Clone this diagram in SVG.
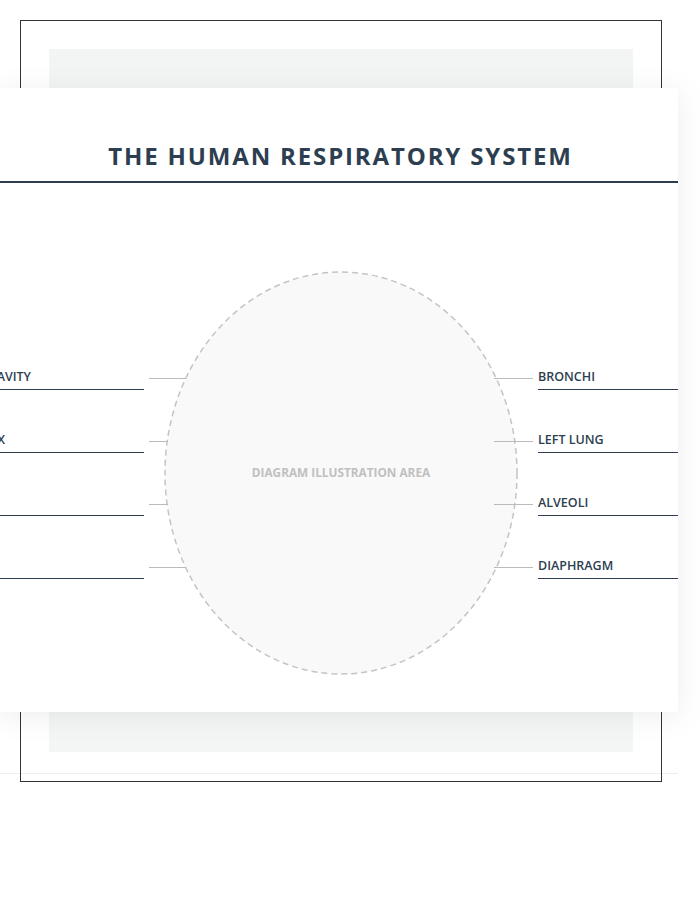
<svg xmlns="http://www.w3.org/2000/svg" width="700" height="900" viewBox="0 0 700 900">
<defs>
<style>
.lbl{font-family:"Open Sans","Liberation Sans",sans-serif;font-size:12.5px;font-weight:600;fill:#2c3e50}
.ul{stroke:#2c3e50;stroke-width:1}
.lead{stroke:#bbb;stroke-width:1}
</style>
<filter id="sh" x="-10%" y="-10%" width="120%" height="120%">
<feDropShadow dx="0" dy="4" stdDeviation="14" flood-color="#000" flood-opacity="0.07"/>
</filter>
<linearGradient id="bg" x1="0" y1="0" x2="0" y2="1">
<stop offset="0" stop-color="#f3f4f4"/>
<stop offset="1" stop-color="#f4f5f5"/>
</linearGradient>
</defs>
<rect width="700" height="900" fill="#fff"/>
<line x1="0" y1="773.5" x2="678" y2="773.5" stroke="#eeeeee" stroke-width="1"/>
<rect x="20.5" y="20.5" width="641" height="761" fill="none" stroke="#333" stroke-width="1"/>
<rect x="49" y="49" width="584" height="703" fill="url(#bg)"/>
<g id="panel">
<rect x="0" y="88" width="678" height="624" fill="#fff" filter="url(#sh)"/>
<text x="340.5" y="165" text-anchor="middle" font-family="Open Sans, Liberation Sans, sans-serif" font-size="24" font-weight="700" letter-spacing="1.85" fill="#2c3e50">THE HUMAN RESPIRATORY SYSTEM</text>
<line x1="0" y1="182" x2="678" y2="182" stroke="#2c3e50" stroke-width="2"/>
</g>
<g id="illustration">
<ellipse cx="341" cy="473" rx="176" ry="201" fill="#f9f9f9" stroke="#c4c4c4" stroke-width="1.5" stroke-dasharray="6,4"/>
<text x="341" y="477" text-anchor="middle" font-family="Open Sans, Liberation Sans, sans-serif" font-size="11.8" font-weight="700" fill="#c0c0c0">DIAGRAM ILLUSTRATION AREA</text>
</g>
<g id="connectors">
<line class="lead" x1="149" y1="378.5" x2="186" y2="378.5"/>
<line class="lead" x1="149" y1="441.5" x2="168" y2="441.5"/>
<line class="lead" x1="149" y1="504.5" x2="168" y2="504.5"/>
<line class="lead" x1="149" y1="567.5" x2="186" y2="567.5"/>
<line class="lead" x1="494" y1="378.5" x2="533" y2="378.5"/>
<line class="lead" x1="494" y1="441.5" x2="533" y2="441.5"/>
<line class="lead" x1="494" y1="504.5" x2="533" y2="504.5"/>
<line class="lead" x1="494" y1="567.5" x2="533" y2="567.5"/>
</g>
<g id="label-nasal-cavity">
<text class="lbl" x="31" y="381" text-anchor="end">NASAL CAVITY</text>
<line class="ul" x1="0" y1="389.5" x2="144" y2="389.5"/>
</g>
<g id="label-larynx">
<text class="lbl" x="5" y="444" text-anchor="end">LARYNX</text>
<line class="ul" x1="0" y1="452.5" x2="144" y2="452.5"/>
</g>
<g id="label-left-3">
<line class="ul" x1="0" y1="515.5" x2="144" y2="515.5"/>
</g>
<g id="label-left-4">
<line class="ul" x1="0" y1="578.5" x2="144" y2="578.5"/>
</g>
<g id="label-bronchi">
<text class="lbl" x="538" y="381">BRONCHI</text>
<line class="ul" x1="538" y1="389.5" x2="678" y2="389.5"/>
</g>
<g id="label-left-lung">
<text class="lbl" x="538" y="444">LEFT LUNG</text>
<line class="ul" x1="538" y1="452.5" x2="678" y2="452.5"/>
</g>
<g id="label-alveoli">
<text class="lbl" x="538" y="507">ALVEOLI</text>
<line class="ul" x1="538" y1="515.5" x2="678" y2="515.5"/>
</g>
<g id="label-diaphragm">
<text class="lbl" x="538" y="570">DIAPHRAGM</text>
<line class="ul" x1="538" y1="578.5" x2="678" y2="578.5"/>
</g>
</svg>
